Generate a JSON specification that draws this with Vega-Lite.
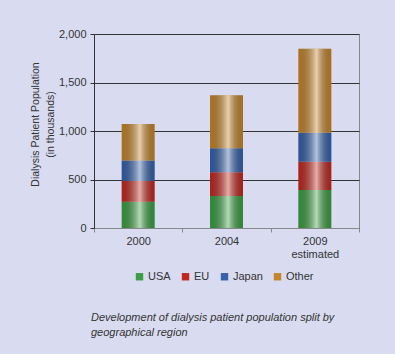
{
  "$schema": "https://vega.github.io/schema/vega-lite/v6.json",
  "autosize": "none",
  "width": 265,
  "height": 194,
  "padding": {"left": 94, "top": 34, "right": 36, "bottom": 126},
  "background": "#d9dcf0",
  "config": {
    "font": "Liberation Sans",
    "view": {"stroke": "#888888", "strokeWidth": 1},
    "axis": {"labelColor": "#333333", "titleColor": "#333333", "labelFontSize": 11}
  },
  "title": {
    "text": ["Development of dialysis patient population split by", "geographical region"],
    "orient": "bottom",
    "anchor": "start",
    "frame": "group",
    "fontSize": 11,
    "fontStyle": "italic",
    "fontWeight": "normal",
    "color": "#333333",
    "offset": 30,
    "dx": -3,
    "lineHeight": 15
  },
  "data": {
    "values": [
      {"year": "2000", "region": "USA", "rank": 1, "value": 270},
      {"year": "2000", "region": "EU", "rank": 2, "value": 215},
      {"year": "2000", "region": "Japan", "rank": 3, "value": 210},
      {"year": "2000", "region": "Other", "rank": 4, "value": 377},
      {"year": "2004", "region": "USA", "rank": 1, "value": 330},
      {"year": "2004", "region": "EU", "rank": 2, "value": 245},
      {"year": "2004", "region": "Japan", "rank": 3, "value": 248},
      {"year": "2004", "region": "Other", "rank": 4, "value": 546},
      {"year": "2009", "region": "USA", "rank": 1, "value": 392},
      {"year": "2009", "region": "EU", "rank": 2, "value": 292},
      {"year": "2009", "region": "Japan", "rank": 3, "value": 298},
      {"year": "2009", "region": "Other", "rank": 4, "value": 866}
    ]
  },
  "encoding": {
    "x": {
      "field": "year",
      "type": "nominal",
      "sort": ["2000", "2004", "2009"],
      "scale": {"paddingInner": 0, "paddingOuter": 0},
      "axis": {
        "title": null,
        "labelAngle": 0,
        "labelExpr": "datum.value == '2009' ? ['2009', 'estimated'] : datum.value",
        "tickBand": "extent",
        "domainColor": "#888888",
        "tickColor": "#888888",
        "tickSize": 4,
        "labelPadding": 3,
        "labelLineHeight": 13,
        "grid": false
      }
    },
    "y": {
      "field": "value",
      "type": "quantitative",
      "stack": "zero",
      "scale": {"domain": [0, 2000]},
      "axis": {
        "values": [0, 500, 1000, 1500, 2000],
        "format": ",d",
        "title": ["Dialysis Patient Population", "(in thousands)"],
        "titleFontSize": 10.5,
        "titleFontWeight": "normal",
        "titleLineHeight": 15,
        "titlePadding": 3,
        "titleY": 90,
        "domainColor": "#333333",
        "tickColor": "#333333",
        "tickSize": 4,
        "labelPadding": 4,
        "gridColor": "#333333",
        "gridOpacity": 1,
        "gridWidth": 1
      }
    },
    "order": {"field": "rank", "type": "quantitative"}
  },
  "layer": [
    {
      "mark": {"type": "bar", "size": 33},
      "encoding": {
        "color": {
          "field": "region",
          "type": "nominal",
          "sort": ["USA", "EU", "Japan", "Other"],
          "scale": {
            "domain": ["USA", "EU", "Japan", "Other"],
            "range": ["#3a9e42", "#c0281f", "#3461aa", "#c4842a"]
          },
          "legend": {
            "title": null,
            "orient": "none",
            "direction": "horizontal",
            "legendX": 40,
            "legendY": 237,
            "symbolType": "square",
            "symbolSize": 55,
            "symbolStrokeWidth": 0,
            "labelFontSize": 11,
            "labelColor": "#333333",
            "labelOffset": 3,
            "columnPadding": 9
          }
        }
      }
    },
    {
      "mark": {
        "type": "bar",
        "size": 33,
        "color": {
          "gradient": "linear",
          "x1": 0, "y1": 0, "x2": 1, "y2": 0,
          "stops": [
            {"offset": 0, "color": "rgba(0,0,0,0.12)"},
            {"offset": 0.55, "color": "rgba(255,255,255,0.62)"},
            {"offset": 1, "color": "rgba(0,0,0,0.14)"}
          ]
        }
      },
      "encoding": {
        "detail": {"field": "region", "type": "nominal"}
      }
    }
  ]
}
